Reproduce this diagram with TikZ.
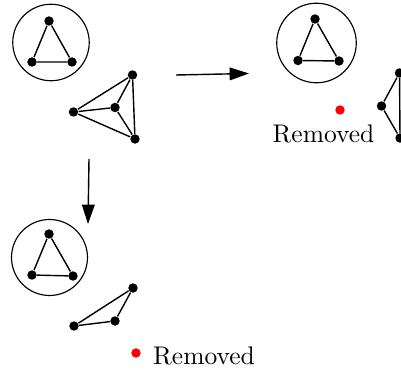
\documentclass[tikz,border=0pt]{standalone}
\usetikzlibrary{arrows.meta}
\begin{document}
\begin{tikzpicture}[x=0.3922pt, y=-0.3922pt,
  vertex/.style={circle, fill=black, inner sep=0pt, minimum size=3.7pt},
  gone/.style={circle, fill=red, inner sep=0pt, minimum size=3.7pt},
  ring/.style={circle, draw, line width=0.45pt, inner sep=0pt},
  edge/.style={line width=0.55pt},
  flow/.style={line width=0.55pt, -{Triangle[length=7.6pt,width=5pt]}},
  tag/.style={anchor=base, inner sep=0pt}]
\useasboundingbox (0,0) rectangle (401,372);
\clip (0,0) rectangle (401,372);

% --- starting graph: triangle in a circle and a K4 ---
\node[ring, minimum size=30pt] (c1) at (51,42.5) {};
\node[vertex] (a1) at (49,21) {};
\node[vertex] (a2) at (32,62) {};
\node[vertex] (a3) at (72,62) {};
\draw[edge] (a1) -- (a2) -- (a3) -- (a1);

\node[vertex] (k1) at (132.5,75) {};
\node[vertex] (k2) at (73.5,112) {};
\node[vertex] (k3) at (115,107.5) {};
\node[vertex] (k4) at (135,139) {};
\draw[edge] (k2) -- (k1) -- (k4) -- (k2) -- (k3) -- (k1);
\draw[edge] (k3) -- (k4);

% --- transitions ---
\coordinate (r0) at (176,75);
\coordinate (r1) at (249,73.5);
\draw[flow] (r0) -- (r1);
\coordinate (d0) at (89,159);
\coordinate (d1) at (88,224);
\draw[flow] (d0) -- (d1);

% --- right branch: inner vertex removed ---
\node[ring, minimum size=31.2pt] (c2) at (316.5,43) {};
\node[vertex] (b1) at (315,19) {};
\node[vertex] (b2) at (298,60.5) {};
\node[vertex] (b3) at (339,61) {};
\draw[edge] (b1) -- (b2) -- (b3) -- (b1);

\node[gone] (x1) at (340,110) {};
\node[tag] (t1) at (323.5,143) {Removed};

\node[vertex] (m1) at (399.5,73) {};
\node[vertex] (m2) at (381.5,106) {};
\node[vertex] (m3) at (400,138) {};
\draw[edge] (m1) -- (m2) -- (m3) -- (m1);

% --- lower branch: outer vertex removed ---
\node[ring, minimum size=29.8pt] (c3) at (49.5,257.5) {};
\node[vertex] (e1) at (49,234) {};
\node[vertex] (e2) at (32,275) {};
\node[vertex] (e3) at (73,276) {};
\draw[edge] (e1) -- (e2) -- (e3) -- (e1);

\node[vertex] (n1) at (133,288) {};
\node[vertex] (n2) at (74,326) {};
\node[vertex] (n3) at (115,321) {};
\draw[edge] (n2) -- (n1) -- (n3) -- (n2);

\node[gone] (x2) at (136,353) {};
\node[tag] (t2) at (204,364) {Removed};
\end{tikzpicture}
\end{document}
